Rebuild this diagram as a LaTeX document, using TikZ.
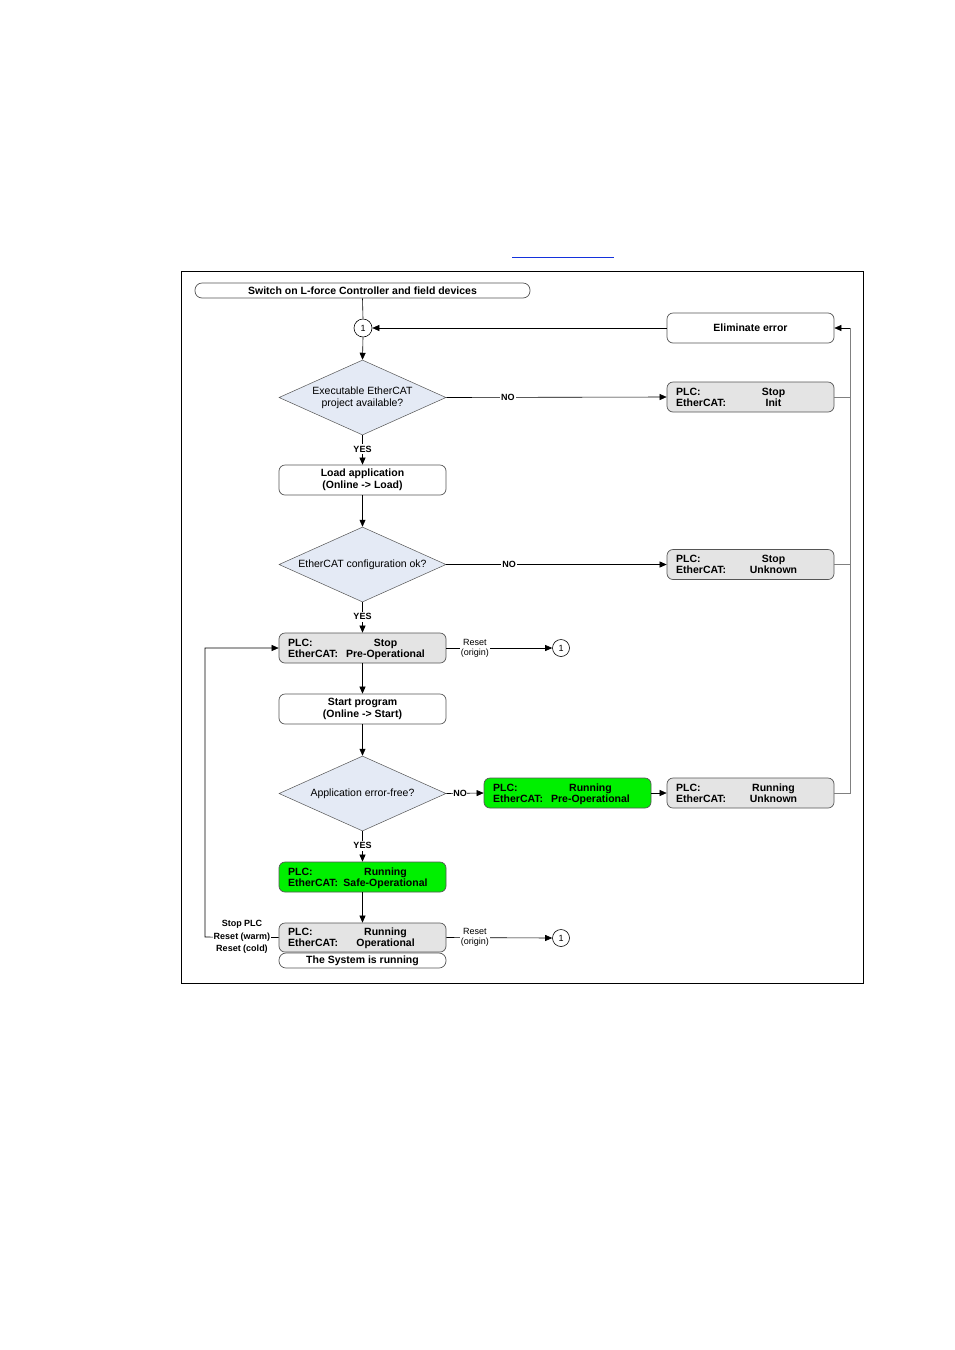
\documentclass[tikz,border=0pt]{standalone}
\usepackage{fontspec}
\setmainfont{Liberation Sans}
\usetikzlibrary{shapes.geometric,arrows.meta,calc}
\definecolor{decfill}{RGB}{228,234,245}
\definecolor{stfill}{RGB}{228,228,228}
\definecolor{grn}{RGB}{0,240,0}
\definecolor{bordc}{RGB}{85,85,85}
\definecolor{linkblue}{RGB}{20,50,220}
\tikzset{
  bbox/.style={draw=bordc, line width=0.7pt, rounded corners=6pt, minimum width=167pt,
     minimum height=30pt, inner sep=0pt, align=center, font=\bfseries\fontsize{10.5}{11.5}\selectfont},
  stbox/.style={bbox, fill=stfill},
  gbox/.style={bbox, fill=grn},
  stad/.style={draw=bordc, line width=0.7pt, rounded corners=7pt, minimum height=15pt,
     inner sep=0pt, align=center, font=\bfseries\fontsize{10.5}{11.5}\selectfont},
  dec/.style={diamond, aspect=2.227, draw=bordc, line width=0.5pt, fill=decfill, minimum width=167pt,
     minimum height=75pt, inner sep=0pt, align=center, font=\fontsize{10.5}{12}\selectfont},
  conn/.style={draw=black, line width=0.6pt, circle, inner sep=0pt, minimum size=18pt,
     fill=white, font=\fontsize{9}{10}\selectfont},
  lt/.style={anchor=west, inner sep=0pt, text height=7.5pt, text depth=2pt, font=\bfseries\fontsize{10.5}{11.5}\selectfont},
  vt/.style={anchor=center, inner sep=0pt, text height=7.5pt, text depth=2pt, font=\bfseries\fontsize{10.5}{11.5}\selectfont},
  yn/.style={fill=white, inner sep=1.5pt, font=\bfseries\fontsize{9}{10}\selectfont},
  small/.style={fill=white, inner sep=1pt, align=center, font=\fontsize{9}{10}\selectfont},
  smallb/.style={fill=white, inner sep=1pt, align=center, font=\bfseries\fontsize{9}{12.5}\selectfont},
  ln/.style={draw=black, line width=0.6pt},
  arr/.style={ln, -{Triangle[length=7pt,width=6pt]}},
  gln/.style={draw=gray, line width=0.6pt},
}
\newcommand\stlabels[3]{%
  \node[lt] (#1p) at ([xshift=-74.5pt,yshift=4.5pt]#1.center) {PLC:};
  \node[vt] (#1pv) at ([xshift=23pt,yshift=4.5pt]#1.center) {#2};
  \node[lt] (#1e) at ([xshift=-74.5pt,yshift=-6.5pt]#1.center) {EtherCAT:};
  \node[vt] (#1ev) at ([xshift=23pt,yshift=-6.5pt]#1.center) {#3};
}
\begin{document}
\begin{tikzpicture}[x=1pt,y=-1pt]
\useasboundingbox (0,0) rectangle (954,1350);
\fill[white] (0,0) rectangle (954,1350);
\draw[linkblue, line width=1pt] (512,257) -- (614,257);
\node[draw=black, line width=0.8pt, minimum width=682pt, minimum height=712pt, inner sep=0pt] (frame) at (522,627) {};

% top
\node[stad, minimum width=335pt] (start) at (362.5,290.5) {Switch on L-force Controller and field devices};
\node[conn] (c1) at (363,328) {1};
\node[bbox] (elim) at (750.5,328) {Eliminate error};
\node[dec] (d1) at (362.5,397.5) {Executable EtherCAT\\project available?};
\node[stbox] (s1) at (750.5,397) {};
\stlabels{s1}{Stop}{Init}
\node[bbox] (load) at (362.5,480) {Load application\\(Online -> Load)};
\node[dec] (d2) at (362.5,564.5) {EtherCAT configuration ok?};
\node[stbox] (s2) at (750.5,564.5) {};
\stlabels{s2}{Stop}{Unknown}
\node[stbox] (s3) at (362.5,648) {};
\stlabels{s3}{Stop}{Pre-Operational}
\node[conn, minimum size=17pt] (c2) at (561,648) {1};
\node[bbox] (startp) at (362.5,709) {Start program\\(Online -> Start)};
\node[dec] (d3) at (362.5,793.5) {Application error-free?};
\node[gbox] (g1) at (567.5,793) {};
\stlabels{g1}{Running}{Pre-Operational}
\node[stbox] (s6) at (750.5,793) {};
\stlabels{s6}{Running}{Unknown}
\node[gbox] (g2) at (362.5,877) {};
\stlabels{g2}{Running}{Safe-Operational}
\node[stbox, minimum height=29pt] (op) at (362.5,937.5) {};
\stlabels{op}{Running}{Operational}
\node[stad, minimum width=167pt, minimum height=15pt] (run) at (362.5,960.5) {The System is running};
\node[conn, minimum size=17pt] (c3) at (561,938) {1};

% connectors
\draw[ln] (start.south) -- (c1.north);
\draw[arr] (c1.south) -- (d1.north);
\draw[arr] (elim.west) -- (c1.east);
\draw[arr] (d1.east) -- node[yn, pos=0.28] (no1) {NO} (s1.west);
\draw[arr] (d1.south) -- node[yn, pos=0.47] (yes1) {YES} (load.north);
\draw[arr] (load.south) -- (d2.north);
\draw[arr] (d2.east) -- node[yn, pos=0.285] (no2) {NO} (s2.west);
\draw[arr] (d2.south) -- node[yn, pos=0.48] (yes2) {YES} (s3.north);
\draw[arr] (s3.east) -- node[small, pos=0.27] (rs1) {Reset\\(origin)} (c2.west);
\draw[arr] (s3.south) -- (startp.north);
\draw[arr] (startp.south) -- (d3.north);
\draw[arr] (d3.east) -- node[yn, pos=0.37, inner sep=0.5pt] (no3) {NO} (g1.west);
\draw[arr] (g1.east) -- (s6.west);
\draw[arr] (d3.south) -- node[yn, pos=0.48] (yes3) {YES} (g2.north);
\draw[arr] (g2.south) -- (op.north);
\draw[arr] (op.east) -- node[small, pos=0.27] (rs2) {Reset\\(origin)} (c3.west);

\coordinate (lc) at (205,937);
\draw[arr] (op.west) -- (lc) |- (s3.west);
\node[smallb] (stoplbl) at (242,937) {Stop PLC\\Reset (warm)\\Reset (cold)};

\coordinate (r1) at (850,397);
\coordinate (r2) at (850,564.5);
\coordinate (rtop) at (850,328);
\draw[gln] (s1.east) -- (r1);
\draw[gln] (s2.east) -- (r2);
\draw[gln] (s6.east) -| (rtop);
\draw[arr] (rtop) -- (elim.east);
\end{tikzpicture}
\end{document}
